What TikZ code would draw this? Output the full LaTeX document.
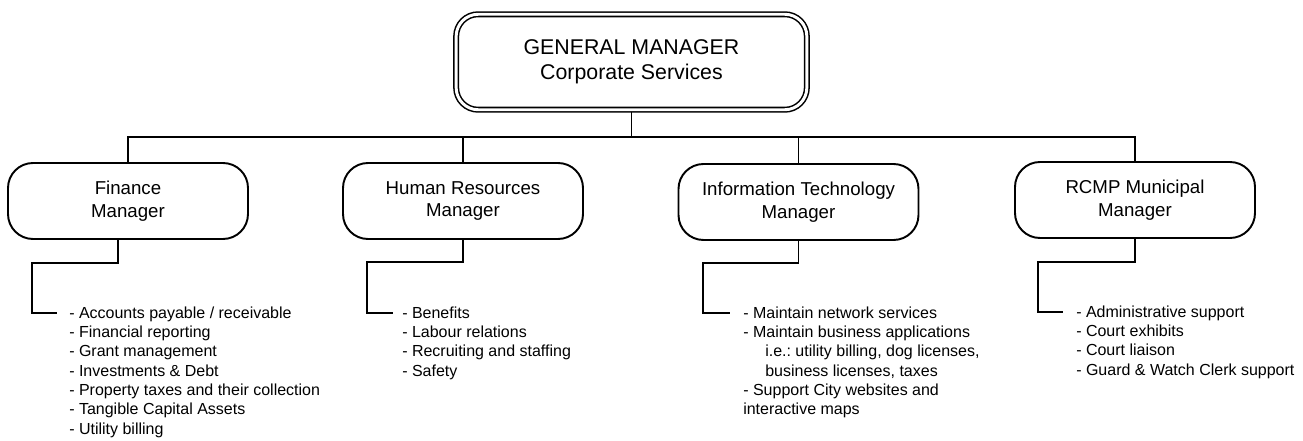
\documentclass[tikz,border=0pt]{standalone}
\usepackage{fontspec}
\setmainfont{Liberation Sans}
\usetikzlibrary{backgrounds}
\frenchspacing
\begin{document}
\begin{tikzpicture}[x=0.75pt,y=-0.75pt,
  conn/.style={line width=1.45pt, line join=miter},
  mgr/.style={draw, line width=1.45pt, rounded corners=18.75pt, minimum width=180pt, minimum height=57pt, align=center, font=\fontsize{14}{17}\selectfont, inner sep=0pt},
  gm/.style={draw, line width=1.15pt, double, double distance=2.2pt, rounded corners=16.5pt, minimum width=263pt, minimum height=71.6pt, align=center, font=\fontsize{16}{19}\selectfont, inner sep=0pt},
  duties/.style={anchor=north west, align=left, inner sep=0pt, font=\fontsize{12}{14.5}\selectfont}]
\useasboundingbox (0,0) rectangle (1303,441);
\node[gm] (gm) at (631.5,62) {GENERAL MANAGER\\Corporate Services};
\node[mgr] (fin) at (128,201) {Finance\\Manager};
\node[mgr] (hr) at (463,201) {Human Resources\\Manager};
\node[mgr] (it) at (798.5,202) {Information Technology\\Manager};
\node[mgr] (rcmp) at (1135,200) {RCMP Municipal\\Manager};

\coordinate (bus) at (0,137);
\coordinate (finT) at (118,239);
\coordinate (finA) at (32,263);
\coordinate (finB) at (32,313);
\coordinate (finE) at (57,313);
\coordinate (hrA) at (367,262);
\coordinate (hrB) at (367,313);
\coordinate (hrE) at (393,313);
\coordinate (itA) at (703,263);
\coordinate (itB) at (703,313);
\coordinate (itE) at (730,313);
\coordinate (rcA) at (1038,262);
\coordinate (rcB) at (1038,312);
\coordinate (rcE) at (1063,312);

\begin{scope}[on background layer]
\draw[conn] (gm.south) -- (gm.south |- bus);
\draw[conn] (fin.north) -- (fin.north |- bus) -| (rcmp.north);
\draw[conn] (hr.north) -- (hr.north |- bus);
\draw[conn] (it.north) -- (it.north |- bus);
\draw[conn] (finT) |- (finA) -- (finB) -- (finE);
\draw[conn] (hr.south) |- (hrA) -- (hrB) -- (hrE);
\draw[conn] (it.south) |- (itA) -- (itB) -- (itE);
\draw[conn] (rcmp.south) |- (rcA) -- (rcB) -- (rcE);
\end{scope}

\node[duties] (finlist) at (69,304.5) {\strut- Accounts payable / receivable\\- Financial reporting\\- Grant management\\- Investments \& Debt\\- Property taxes and their collection\\- Tangible Capital Assets\\- Utility billing};
\node[duties] (hrlist) at (402,304.5) {\strut- Benefits\\- Labour relations\\- Recruiting and staffing\\- Safety};
\node[duties] (itlist) at (743,304.5) {\strut- Maintain network services\\- Maintain business applications\\\hspace*{16.5pt}i.e.: utility billing, dog licenses,\\\hspace*{16.5pt}business licenses, taxes\\- Support City websites and\\interactive maps};
\node[duties] (rclist) at (1076,303.5) {\strut- Administrative support\\- Court exhibits\\- Court liaison\\- Guard \& Watch Clerk support};
\end{tikzpicture}
\end{document}
